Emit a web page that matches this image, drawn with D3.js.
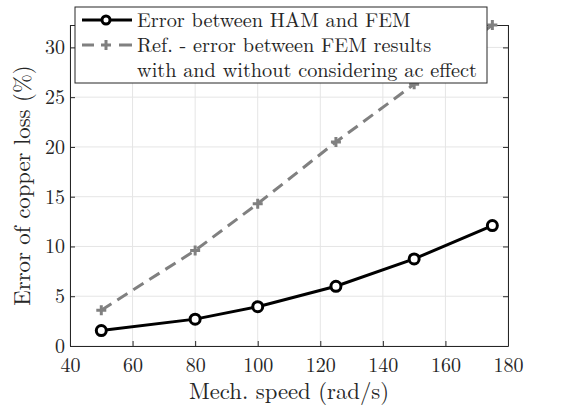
<!DOCTYPE html>
<html>
<head>
<meta charset="utf-8">
<script src="https://cdn.jsdelivr.net/npm/d3@7"></script>
<style>
body { margin: 0; background: #fff; }
</style>
</head>
<body>
<script>
var speeds = [50, 80, 100, 125, 150, 175];
var hamError = [1.55, 2.7, 3.95, 6.0, 8.75, 12.1];
var refError = [3.6, 9.6, 14.3, 20.5, 26.3, 32.25];
var xTicks = [40, 60, 80, 100, 120, 140, 160, 180];
var yTicks = [0, 5, 10, 15, 20, 25, 30];
var legendLabels = ['Error between HAM and FEM', 'Ref. - error between FEM results', 'with and without considering ac effect'];

var W = 566, H = 412;
var margin = {left: 70, right: 58, top: 25, bottom: 66};
var FONT = 'Latin Modern Roman, Liberation Serif, serif';
var INK = '#262626';

var svg = d3.select('body').append('svg')
	.attr('width', W)
	.attr('height', H);

var x = d3.scaleLinear().domain([40, 180]).range([margin.left, W - margin.right]);
var y = d3.scaleLinear().domain([0, d3.max(refError)]).range([H - margin.bottom, margin.top]);

// grid
svg.append('g').selectAll('line').data(xTicks).enter().append('line')
	.attr('x1', function(d){ return x(d); }).attr('x2', function(d){ return x(d); })
	.attr('y1', y.range()[0]).attr('y2', y.range()[1])
	.attr('stroke', '#e5e5e5').attr('stroke-width', 1);
svg.append('g').selectAll('line').data(yTicks).enter().append('line')
	.attr('y1', function(d){ return y(d); }).attr('y2', function(d){ return y(d); })
	.attr('x1', x.range()[0]).attr('x2', x.range()[1])
	.attr('stroke', '#e5e5e5').attr('stroke-width', 1);

// axes (box with inward ticks)
svg.append('g').attr('transform', 'translate(0,' + y(0) + ')')
	.call(d3.axisBottom(x).tickValues(xTicks).tickSizeInner(-5).tickSizeOuter(0).tickPadding(12));
svg.append('g').attr('transform', 'translate(' + x(40) + ',0)')
	.call(d3.axisLeft(y).tickValues(yTicks).tickSizeInner(-5).tickSizeOuter(0).tickPadding(5));
svg.append('g').attr('transform', 'translate(0,' + margin.top + ')')
	.call(d3.axisTop(x).tickValues(xTicks).tickSizeInner(-5).tickSizeOuter(0).tickFormat(''));
svg.append('g').attr('transform', 'translate(' + x(180) + ',0)')
	.call(d3.axisRight(y).tickValues(yTicks).tickSizeInner(-5).tickSizeOuter(0).tickFormat(''));
svg.selectAll('.domain, .tick line').attr('stroke', INK).attr('stroke-width', 1);
svg.selectAll('.tick text').attr('font-size', 20).attr('font-family', FONT).attr('fill', INK);
svg.selectAll('g').attr('font-family', FONT);

svg.append('text').attr('x', (x(40) + x(180)) / 2).attr('y', 399)
	.attr('text-anchor', 'middle').attr('font-size', 22.7).attr('font-family', FONT).attr('fill', INK)
	.text('Mech. speed (rad/s)');
svg.append('text').attr('transform', 'translate(30,' + (y(0) + y(32.25)) / 2 + ') rotate(-90)')
	.attr('text-anchor', 'middle').attr('font-size', 22.7).attr('font-family', FONT).attr('fill', INK)
	.text('Error of copper loss (%)');

var refData = speeds.map(function(s, i){ return {x: s, y: refError[i]}; });
var hamData = speeds.map(function(s, i){ return {x: s, y: hamError[i]}; });
var line = d3.line().x(function(d){ return x(d.x); }).y(function(d){ return y(d.y); });

svg.append('path').datum(refData).attr('d', line)
	.attr('fill', 'none').attr('stroke', '#808080').attr('stroke-width', 3).attr('stroke-dasharray', '12,7');
svg.selectAll('.plus').data(refData).enter().append('path').attr('class', 'plus')
	.attr('d', function(d){ var px = x(d.x), py = y(d.y); return 'M' + (px - 5) + ',' + py + 'H' + (px + 5) + 'M' + px + ',' + (py - 5) + 'V' + (py + 5); })
	.attr('stroke', '#808080').attr('stroke-width', 3);

svg.append('path').datum(hamData).attr('d', line)
	.attr('fill', 'none').attr('stroke', '#000').attr('stroke-width', 3);
svg.selectAll('.circ').data(hamData).enter().append('circle')
	.attr('cx', function(d){ return x(d.x); }).attr('cy', function(d){ return y(d.y); })
	.attr('r', 5).attr('fill', '#fff').attr('stroke', '#000').attr('stroke-width', 3);

// legend
var lg = svg.append('g');
lg.append('rect').attr('x', 75).attr('y', 7).attr('width', 412).attr('height', 76)
	.attr('fill', '#fff').attr('stroke', INK).attr('stroke-width', 1);
lg.append('line').attr('x1', 82).attr('x2', 132).attr('y1', 20).attr('y2', 20)
	.attr('stroke', '#000').attr('stroke-width', 3);
lg.append('circle').attr('cx', 106).attr('cy', 20).attr('r', 4).attr('fill', '#fff')
	.attr('stroke', '#000').attr('stroke-width', 3);
lg.append('path').attr('d', 'M82,45H94M119,45H132')
	.attr('stroke', '#808080').attr('stroke-width', 3);
lg.append('path').attr('d', 'M101,45H111M106,40V50').attr('stroke', '#808080').attr('stroke-width', 3);
lg.selectAll('text').data(legendLabels).enter().append('text')
	.attr('x', 137).attr('y', function(d, i){ return 27 + i * 25; })
	.attr('font-size', 20.3).attr('font-family', FONT).attr('fill', INK)
	.text(function(d){ return d; });
</script>
</body>
</html>
